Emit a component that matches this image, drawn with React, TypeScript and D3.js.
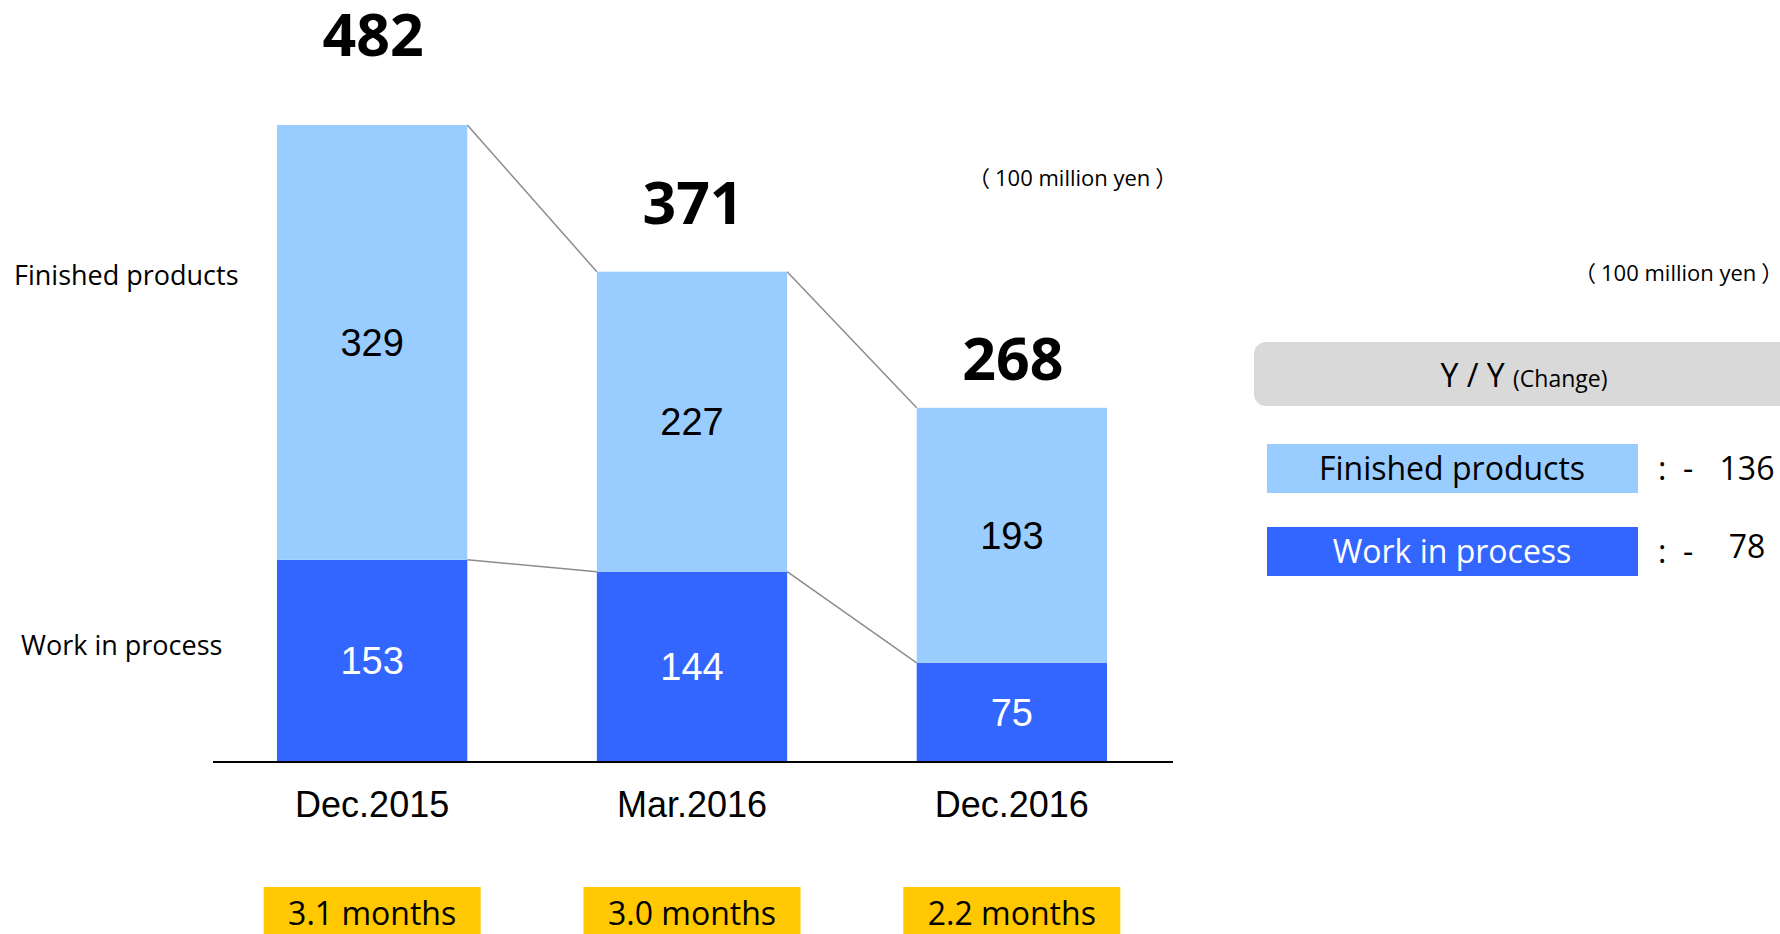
import { useEffect, useRef } from "react"
import * as d3 from "d3"

// inventory, 100 million yen
const categories = ["Dec.2015", "Mar.2016", "Dec.2016"]
const finishedProducts = [329, 227, 193]
const workInProcess = [153, 144, 75]
const totals = [482, 371, 268]
const monthsLabels = ["3.1 months", "3.0 months", "2.2 months"]

const seriesNames = ["Finished products", "Work in process"]
const yoyChange = [-136, -78]
const unitText = "100 million yen"

const LIGHT = "#99CCFF"
const BLUE = "#3366FF"
const SANS = "'Open Sans', 'Noto Sans', sans-serif"
const ARIAL = "'Liberation Sans', Arial, sans-serif"
const CJK = "'Noto Sans CJK JP', sans-serif"

export default function App() {
    const ref = useRef<SVGSVGElement | null>(null)

    useEffect(() => {
        const svg = d3.select(ref.current)
        svg.selectAll("*").remove()
        buildGraph(svg)
    }, [])

    function buildGraph(svg: any, {
        width = 1780,
        height = 934,
        axisY = 762,
    } = {}) {
        svg.attr("width", width).attr("height", height)

        const x = d3.scaleBand()
            .domain(categories)
            .range([277, 1107])
            .paddingInner(0.405)
            .paddingOuter(0)

        const y = d3.scaleLinear()
            .domain([0, d3.max(totals) as number])
            .range([axisY, 125])

        // the totals sit higher above the tall bars than above the short ones
        const totalY = d3.scaleLinear()
            .domain([0, d3.max(totals) as number])
            .range([785, 56])

        const rows = categories.map((c, i) => ({
            name: c,
            fp: finishedProducts[i],
            wip: workInProcess[i],
            total: totals[i],
            months: monthsLabels[i],
        }))

        // connector lines between bars
        const links = d3.pairs(rows)
        const conn = svg.append("g")
            .attr("stroke", "#8c8c8c")
            .attr("stroke-width", 1.5)
        conn.selectAll("line.top")
            .data(links)
            .join("line")
                .attr("x1", ([a]: any) => (x(a.name) as number) + x.bandwidth())
                .attr("y1", ([a]: any) => y(a.wip + a.fp))
                .attr("x2", ([, b]: any) => x(b.name))
                .attr("y2", ([, b]: any) => y(b.wip + b.fp))
        conn.selectAll("line.mid")
            .data(links)
            .enter()
            .append("line")
                .attr("x1", ([a]: any) => (x(a.name) as number) + x.bandwidth())
                .attr("y1", ([a]: any) => y(a.wip))
                .attr("x2", ([, b]: any) => x(b.name))
                .attr("y2", ([, b]: any) => y(b.wip))

        // work in process
        svg.append("g")
            .selectAll("rect")
            .data(rows)
            .join("rect")
                .attr("fill", BLUE)
                .attr("x", (d: any) => x(d.name))
                .attr("y", (d: any) => y(d.wip))
                .attr("width", x.bandwidth())
                .attr("height", (d: any) => y(0) - y(d.wip))

        // finished products
        svg.append("g")
            .selectAll("rect")
            .data(rows)
            .join("rect")
                .attr("fill", LIGHT)
                .attr("x", (d: any) => x(d.name))
                .attr("y", (d: any) => y(d.wip + d.fp))
                .attr("width", x.bandwidth())
                .attr("height", (d: any) => y(d.wip) - y(d.wip + d.fp))

        const cx = (d: any) => (x(d.name) as number) + x.bandwidth() / 2

        // value labels inside
        svg.append("g")
                .attr("font-family", ARIAL)
                .attr("font-size", 38)
                .attr("text-anchor", "middle")
                .attr("fill", "white")
            .selectAll("text")
            .data(rows)
            .join("text")
                .attr("x", cx)
                .attr("y", (d: any) => y(d.wip / 2))
                .attr("dy", "0.35em")
                .text((d: any) => d.wip)

        svg.append("g")
                .attr("font-family", ARIAL)
                .attr("font-size", 38)
                .attr("text-anchor", "middle")
                .attr("fill", "black")
            .selectAll("text")
            .data(rows)
            .join("text")
                .attr("x", cx)
                .attr("y", (d: any) => y(d.wip + d.fp / 2))
                .attr("dy", "0.35em")
                .text((d: any) => d.fp)

        // totals
        svg.append("g")
                .attr("font-family", SANS)
                .attr("font-weight", 700)
                .attr("font-size", 59)
                .attr("text-anchor", "middle")
            .selectAll("text")
            .data(rows)
            .join("text")
                .attr("x", (d: any) => cx(d) + 1)
                .attr("y", (d: any) => totalY(d.total))
                .text((d: any) => d.total)

        // baseline
        svg.append("line")
            .attr("x1", 213)
            .attr("x2", 1173)
            .attr("y1", axisY)
            .attr("y2", axisY)
            .attr("stroke", "black")
            .attr("stroke-width", 2)

        // category labels
        svg.append("g")
                .attr("font-family", ARIAL)
                .attr("font-size", 36)
                .attr("text-anchor", "middle")
            .selectAll("text")
            .data(rows)
            .join("text")
                .attr("x", cx)
                .attr("y", 817)
                .text((d: any) => d.name)

        // months boxes
        const mw = 217
        const mg = svg.append("g")
        mg.selectAll("rect")
            .data(rows)
            .join("rect")
                .attr("fill", "#FFC800")
                .attr("x", (d: any) => cx(d) - mw / 2)
                .attr("y", 887)
                .attr("width", mw)
                .attr("height", 60)
        mg.selectAll("text")
            .data(rows)
            .join("text")
                .attr("font-family", SANS)
                .attr("font-size", 32)
                .attr("text-anchor", "middle")
                .attr("x", cx)
                .attr("y", 925)
                .text((d: any) => d.months)

        // row labels on the left
        svg.append("text")
            .attr("font-family", SANS)
            .attr("font-size", 27)
            .attr("x", 14)
            .attr("y", 285)
            .text(seriesNames[0])
        svg.append("text")
            .attr("font-family", SANS)
            .attr("font-size", 27)
            .attr("x", 21)
            .attr("y", 655)
            .text(seriesNames[1])

        // units
        const unit = (ux: number, uy: number) => {
            const t = svg.append("text")
                .attr("font-family", SANS)
                .attr("font-size", 22)
                .attr("x", ux)
                .attr("y", uy)
            t.append("tspan").attr("font-family", CJK).text("（")
            t.append("tspan").attr("dx", 5).text(unitText)
            t.append("tspan").attr("dx", 5).attr("font-family", CJK).text("）")
        }
        unit(968, 186)
        unit(1574, 281)

        // Y/Y panel
        svg.append("rect")
            .attr("fill", "#D9D9D9")
            .attr("x", 1254)
            .attr("y", 342)
            .attr("width", 560)
            .attr("height", 64)
            .attr("rx", 12)
        const yy = svg.append("text")
            .attr("font-family", SANS)
            .attr("text-anchor", "middle")
            .attr("x", 1524)
            .attr("y", 387)
        yy.append("tspan").attr("font-size", 32).text("Y / Y ")
        yy.append("tspan").attr("font-size", 23).text("(Change)")

        const legend = seriesNames.map((n, i) => ({
            name: n,
            change: yoyChange[i],
            color: i === 0 ? LIGHT : BLUE,
            textColor: i === 0 ? "black" : "white",
        }))
        const lg = svg.append("g")
            .selectAll("g")
            .data(legend)
            .join("g")
                .attr("transform", (_: any, i: number) => `translate(0,${444 + i * 83})`)
        lg.append("rect")
            .attr("x", 1267)
            .attr("y", 0)
            .attr("width", 371)
            .attr("height", 49)
            .attr("fill", (d: any) => d.color)
        lg.append("text")
            .attr("font-family", SANS)
            .attr("font-size", 32)
            .attr("text-anchor", "middle")
            .attr("x", 1452)
            .attr("y", 36)
            .attr("fill", (d: any) => d.textColor)
            .text((d: any) => d.name)
        lg.append("text")
            .attr("font-family", SANS)
            .attr("font-size", 32)
            .attr("x", 1658)
            .attr("y", 36)
            .text(":")
        lg.append("text")
            .attr("font-family", SANS)
            .attr("font-size", 32)
            .attr("x", 1683)
            .attr("y", 36)
            .text((d: any) => (d.change < 0 ? "-" : "+"))
        lg.append("text")
            .attr("font-family", SANS)
            .attr("font-size", 32)
            .attr("text-anchor", "middle")
            .attr("x", 1747)
            .attr("y", (_: any, i: number) => (i === 0 ? 36 : 31))
            .text((d: any) => Math.abs(d.change))
    }

    return (
        <svg ref={ref} style={{ position: "absolute", left: 0, top: 0, display: "block", background: "white" }} />
    )
}
